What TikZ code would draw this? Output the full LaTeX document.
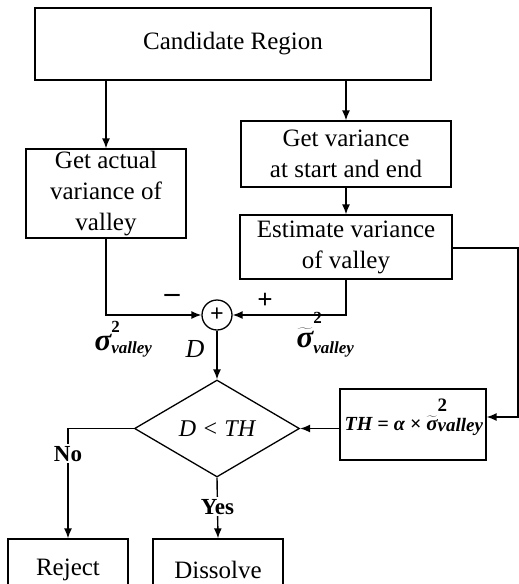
\documentclass[tikz,border=0pt]{standalone}
\usepackage{fontspec}
\setmainfont{Liberation Serif}
\usetikzlibrary{arrows.meta,shapes.geometric}
\newcommand{\scrpair}[3]{\rlap{\raisebox{#1}{\fontsize{#3}{#3}\selectfont\bfseries\upshape 2}}\raisebox{#2}{\fontsize{#3}{#3}\selectfont\bfseries\itshape valley}}
\newcommand{\sigt}{$\widetilde{\hbox{\bfseries\itshape σ}}$}
\begin{document}
\begin{tikzpicture}[x=1pt,y=-1pt,
  line width=1.4pt,
  box/.style={draw,line width=1.3pt,inner sep=0pt,align=center,font=\fontsize{25}{31}\selectfont},
  arr/.style={-{Latex[length=10pt,width=8pt]}},
  lab/.style={inner sep=0pt,font=\fontsize{25}{31}\selectfont},
  cut/.style={fill=white,inner sep=2pt,font=\fontsize{23}{28}\selectfont\bfseries},
]
\useasboundingbox (0,0) rectangle (519,584);
\clip (0,0) rectangle (519,584);
\node[box,minimum width=396pt,minimum height=72pt] (cand) at (233,44) {Candidate Region};
\node[box,minimum width=160pt,minimum height=89pt] (act) at (106,193.5) {Get actual\\variance of\\valley};
\node[box,minimum width=210pt,minimum height=66pt] (getv) at (346,154) {Get variance\\at start and end};
\node[box,minimum width=212pt,minimum height=64pt] (est) at (346,247) {Estimate variance\\of valley};
\node[draw,circle,line width=1.3pt,minimum size=30pt,inner sep=0pt,font=\fontsize{24}{24}\selectfont\bfseries] (sum) at (217,315) {+};
\node[draw,diamond,line width=1.3pt,minimum width=165pt,minimum height=97pt,inner sep=0pt,font=\fontsize{24}{28}\selectfont\itshape] (dia) at (217,428.5) {D < TH};
\node[box,minimum width=146pt,minimum height=71pt] (th) at (413,424.5) {};
\node[inner sep=0pt,anchor=base west,font=\fontsize{20}{22}\selectfont\bfseries\itshape] (thtext) at (344,430)
  {TH = α × {\fontsize{21}{22}\selectfont\sigt}\scrpair{19pt}{-1pt}{19}};
\node[box,minimum width=120pt,minimum height=62pt] (rej) at (68,570) {Reject};
\node[box,minimum width=130pt,minimum height=62pt] (dis) at (218,570) {Dissolve};

\draw[arr] (cand.south -| act) -- (act.north);
\draw[arr] (cand.south -| getv) -- (getv.north);
\draw[arr] (getv.south) -- (est.north);
\draw[arr] (act.south) -- (act.south |- sum) -- (sum.west);
\draw[arr] (est.south) -- (est.south |- sum) -- (sum.east);
\draw[arr] (sum.south) -- (dia.north);
\coordinate (c1) at (518,248);
\draw[arr] (est.east |- c1) -- (c1) -- (c1 |- 417,417) -- ([yshift=7.5pt]th.east);
\draw[arr] (th.west |- dia.east) -- (dia.east);
\coordinate (nocorner) at (68,428.5);
\draw[arr] (dia.west) -- (nocorner) -- node[cut,pos=0.23] {No} (rej.north);
\draw[arr] (dia.south) -- node[cut,pos=0.48] {Yes} (dis.north);

\node[lab,font=\fontsize{30}{30}\selectfont\bfseries] (minus) at (172,298) {–};
\node[lab,font=\fontsize{27}{27}\selectfont\bfseries] (plus) at (265,301) {+};
\node[lab,anchor=base west,font=\fontsize{31}{31}\selectfont\bfseries\itshape] (sig) at (94,350) {σ\scrpair{18pt}{-3pt}{17}};
\node[lab,anchor=base west,font=\fontsize{26}{28}\selectfont\itshape] (dlab) at (185,357) {D};
\node[lab,anchor=base west,font=\fontsize{31}{31}\selectfont\bfseries\itshape] (sigtl) at (296,347) {\sigt\scrpair{24pt}{-6pt}{17}};
\end{tikzpicture}
\end{document}
